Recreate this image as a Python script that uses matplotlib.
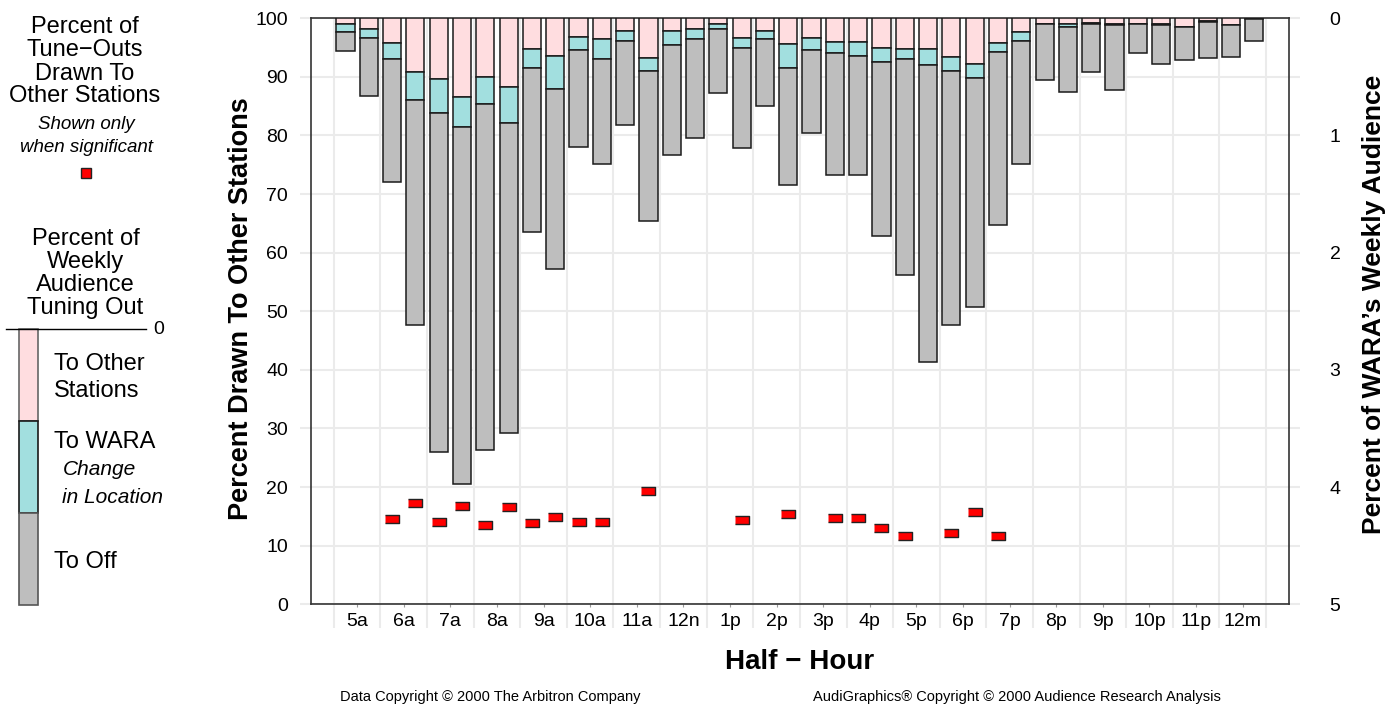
import numpy as np
import matplotlib
matplotlib.use('Agg')
import matplotlib.pyplot as plt
from matplotlib.lines import Line2D

plt.rcParams['font.family'] = ['Liberation Sans', 'DejaVu Sans']

# hour labels, one per two half-hour bars
hour_labels = ['5a', '6a', '7a', '8a', '9a', '10a', '11a', '12n', '1p', '2p',
               '3p', '4p', '5p', '6p', '7p', '8p', '9p', '10p', '11p', '12m']

# percent of weekly audience tuning out (right axis), per half hour
to_other = [0.05, 0.09, 0.21, 0.46, 0.52, 0.67, 0.50, 0.59, 0.26, 0.32,
            0.16, 0.18, 0.11, 0.34, 0.11, 0.09, 0.05, 0.17, 0.11, 0.22,
            0.17, 0.20, 0.20, 0.25, 0.26, 0.26, 0.33, 0.39, 0.21, 0.12,
            0.05, 0.05, 0.04, 0.05, 0.05, 0.05, 0.07, 0.02, 0.06, 0.01]
to_wara = [0.07, 0.08, 0.14, 0.24, 0.29, 0.26, 0.23, 0.30, 0.16, 0.28,
           0.11, 0.17, 0.08, 0.11, 0.12, 0.09, 0.04, 0.08, 0.07, 0.20,
           0.10, 0.10, 0.12, 0.12, 0.09, 0.14, 0.12, 0.12, 0.08, 0.07,
           0.00, 0.02, 0.01, 0.01, 0.00, 0.01, 0.00, 0.01, 0.00, 0.00]
to_off = [0.16, 0.49, 1.05, 1.92, 2.89, 3.04, 2.95, 2.65, 1.40, 1.54,
          0.83, 0.89, 0.72, 1.28, 0.94, 0.84, 0.55, 0.86, 0.57, 1.00,
          0.71, 1.04, 1.02, 1.49, 1.84, 2.53, 2.17, 1.95, 1.47, 1.05,
          0.48, 0.56, 0.41, 0.55, 0.25, 0.33, 0.29, 0.31, 0.27, 0.18]

# percent of tune-outs drawn to other stations (left axis), nan = not significant
nan = np.nan
drawn_other = [nan, nan, 14.5, 17.3, 14.0, 16.8, 13.5, 16.6, 13.8, 14.9,
               14.0, 14.0, nan, 19.3, nan, nan, nan, 14.4, nan, 15.4,
               nan, 14.7, 14.7, 13.0, 11.7, nan, 12.2, 15.7, 11.7, nan,
               nan, nan, nan, nan, nan, nan, nan, nan, nan, nan]

pink = '#FFDDE0'
cyan = '#A2DFDF'
gray = '#BEBEBE'
edge = '#1A1A1A'
grid_c = '#EBEBEB'

W, H = 1388, 709
fig = plt.figure(figsize=(W / 100, H / 100), dpi=100)


def fx(px):
    return px / W


def fy(py):
    return 1 - py / H


ax = fig.add_axes([fx(310.5), fy(604.3), (1289.3 - 310.5) / W, (604.3 - 18.3) / H])
ax2 = ax.twinx()

x = np.arange(len(to_off))

ax.set_xlim(-1.5, 40.5)
ax.set_ylim(0, 100)
ax.set_yticks(np.arange(0, 101, 10))
ax.set_xticks(np.arange(0.5, 40, 2))
ax.set_xticklabels(hour_labels)
ax.set_xticks(np.arange(-0.5, 40, 2), minor=True)
ax.grid(True, axis='y', which='major', color=grid_c, lw=1.5)
ax.grid(True, axis='x', which='minor', color=grid_c, lw=1.5)
ax.tick_params(axis='y', which='major', length=8, width=1.5, color=grid_c,
               labelsize=14, pad=8.2, left=True, right=True, labelright=False)
ax.tick_params(axis='x', which='minor', length=17, width=1.5, color=grid_c)
ax.tick_params(axis='x', which='major', length=2.2, color='#999999', labelsize=14, pad=4)
for s in ax.spines.values():
    s.set_color('#333333')
    s.set_linewidth(1.2)

# small red rectangles for the percent drawn to other stations
rect = [(-1.5, -1), (1.5, -1), (1.5, 1), (-1.5, 1)]
ax.plot(x, drawn_other, ls='none', marker=rect, ms=9.6, mfc='#FF0000',
        mec='#222222', mew=1, zorder=5)

ax.set_ylabel('Percent Drawn To Other Stations', fontsize=19.5, fontweight='bold',
              va='baseline')
ax.yaxis.set_label_coords((248 - 310.5) / 978.8, 0.505)
ax.set_xlabel('Half − Hour', fontsize=20, fontweight='bold', va='center')
ax.xaxis.set_label_coords(0.5, (604.3 - 662) / 586)

# stacked tune-out bars hang from the top on the inverted right axis
ax2.set_ylim(5, 0)
ax2.set_yticks(range(6))
ax2.tick_params(axis='y', length=0, labelsize=14, pad=29)
bw = 0.78
ax2.bar(x, to_other, width=bw, color=pink, edgecolor=edge, lw=1.1)
ax2.bar(x, to_wara, width=bw, bottom=to_other, color=cyan, edgecolor=edge, lw=1.1)
ax2.bar(x, to_off, width=bw, bottom=np.add(to_other, to_wara), color=gray,
        edgecolor=edge, lw=1.1)
for s in ax2.spines.values():
    s.set_visible(False)
ax2.set_ylabel('Percent of WARA’s Weekly Audience', fontsize=19, fontweight='bold',
               rotation=90, va='baseline')
ax2.yaxis.set_label_coords((1381 - 310.5) / 978.8, 0.512)

# left-hand legend
for txt, yb in zip(['Percent of', 'Tune−Outs', 'Drawn To', 'Other Stations'],
                   [33, 56.5, 80, 102.5]):
    fig.text(fx(85), fy(yb), txt, ha='center', va='baseline', fontsize=17)
for txt, yb in zip(['Shown only', 'when significant'], [129, 151.5]):
    fig.text(fx(86), fy(yb), txt, ha='center', va='baseline', fontsize=13.5,
             style='italic')
fig.add_artist(Line2D([fx(86)], [fy(173)], marker='s', ms=7.4, mfc='#FF0000',
                      mec='#222222', mew=1, transform=fig.transFigure))

for txt, yb in zip(['Percent of', 'Weekly', 'Audience', 'Tuning Out'],
                   [245, 268.3, 291, 314.3]):
    fig.text(fx(85.5), fy(yb), txt, ha='center', va='baseline', fontsize=17)
fig.add_artist(Line2D([fx(6), fx(146)], [fy(329), fy(329)], color='black', lw=1,
                      transform=fig.transFigure))
fig.text(fx(153), fy(330), '0', ha='left', va='center', fontsize=14)

kax = fig.add_axes([fx(18.7), fy(605.3), (38.3 - 18.7) / W, (605.3 - 329) / H])
kax.set_xlim(-0.5, 0.5)
kax.set_ylim(3, 0)
kax.axis('off')
kax.bar([0, 0, 0], [1, 1, 1], bottom=[0, 1, 2], width=1, color=[pink, cyan, gray],
        edgecolor=['#666666', edge, '#555555'], lw=1.2, clip_on=False)

fig.text(fx(54.3), fy(370), 'To Other', ha='left', va='baseline', fontsize=17)
fig.text(fx(54.3), fy(397.3), 'Stations', ha='left', va='baseline', fontsize=17)
fig.text(fx(54.3), fy(448.3), 'To WARA', ha='left', va='baseline', fontsize=17)
fig.text(fx(63.3), fy(475), 'Change', ha='left', va='baseline', fontsize=15, style='italic')
fig.text(fx(62.3), fy(502.7), 'in Location', ha='left', va='baseline', fontsize=15,
         style='italic')
fig.text(fx(54.3), fy(567.7), 'To Off', ha='left', va='baseline', fontsize=17)

# footer
fig.text(fx(490), fy(697), 'Data Copyright © 2000 The Arbitron Company',
         ha='center', va='center', fontsize=10.5)
fig.text(fx(1017), fy(697), 'AudiGraphics® Copyright © 2000 Audience Research Analysis',
         ha='center', va='center', fontsize=10.5)

fig.savefig('out.png', dpi=100)
